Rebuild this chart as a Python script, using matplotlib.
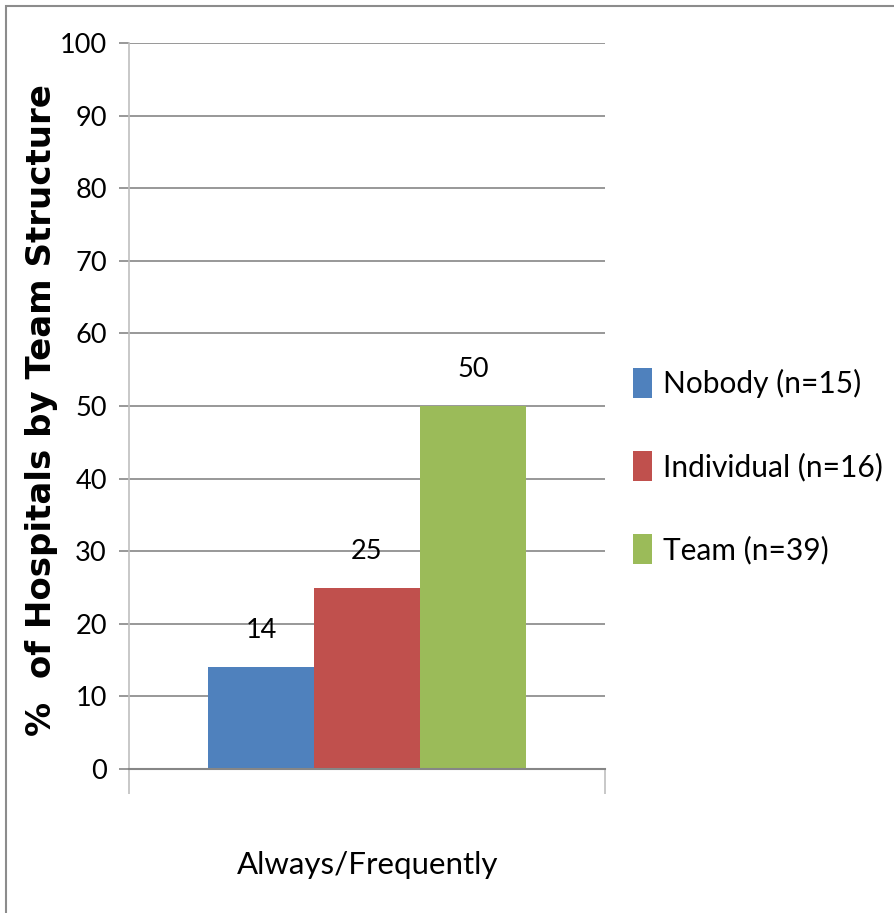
import matplotlib.pyplot as plt
from matplotlib.patches import Rectangle

# chart data
category = 'Always/Frequently'
groups = ['Nobody (n=15)', 'Individual (n=16)', 'Team (n=39)']
values = [14, 25, 50]
colors = ['#4f81bd', '#c0504d', '#9bbb59']
yticks = [0, 10, 20, 30, 40, 50, 60, 70, 80, 90, 100]

NARROW = ['Lato', 'DejaVu Sans']

fig = plt.figure(figsize=(8.94, 9.13), dpi=100)
ax = fig.add_axes([0.1443, 0.1577, 0.5324, 0.7952])

bar_w = 0.2227
offsets = [-bar_w, 0, bar_w]
for off, val, col, name in zip(offsets, values, colors, groups):
    ax.bar(off, val, width=bar_w, color=col, label=name, zorder=2)
    ax.text(off, val + 3.3, str(val), ha='center', va='bottom',
            fontsize=19.5, family=NARROW)

ax.set_xlim(-0.5, 0.5)
ax.set_ylim(0, 100)
ax.set_yticks(yticks)
ax.set_yticklabels([str(t) for t in yticks], fontsize=19.5, family=NARROW)
ax.yaxis.grid(True, color='#868686', linewidth=1.2, zorder=0)
ax.set_axisbelow(True)
ax.tick_params(axis='y', length=7, width=1.2, color='#868686', pad=9)

# category axis: boundary ticks only
ax.set_xticks([-0.5, 0.5])
ax.set_xticklabels(['', ''])
ax.tick_params(axis='x', length=18, width=1.2, color='#bfbfbf', direction='out')
for side in ['top', 'right']:
    ax.spines[side].set_visible(False)
ax.spines['left'].set_color('#bfbfbf')
ax.spines['left'].set_linewidth(1.2)
ax.spines['bottom'].set_color('#868686')
ax.spines['bottom'].set_linewidth(1.5)

fig.text(368 / 894, 1 - 865 / 913, category, ha='center', va='center',
         fontsize=22.5, family=NARROW)
fig.text(42 / 894, 1 - 410 / 913, '%  of Hospitals by Team Structure',
         rotation=90, ha='center', va='center', fontsize=24.5,
         fontweight='bold', family='DejaVu Sans')

leg = fig.legend(loc='center left', bbox_to_anchor=(633 / 894, 1 - 466 / 913),
                 frameon=False, prop={'family': NARROW, 'size': 21.5},
                 handlelength=0.62, handleheight=1.2, handletextpad=0.4,
                 labelspacing=1.75, borderaxespad=0, borderpad=0)

# outer chart frame
fig.patches.append(Rectangle((6 / 894, -0.05), 1.1, 1 - 6 / 913 + 0.05,
                             transform=fig.transFigure, fill=False,
                             edgecolor='#8c8c8c', linewidth=1.5))

fig.savefig('out.png', dpi=100)
